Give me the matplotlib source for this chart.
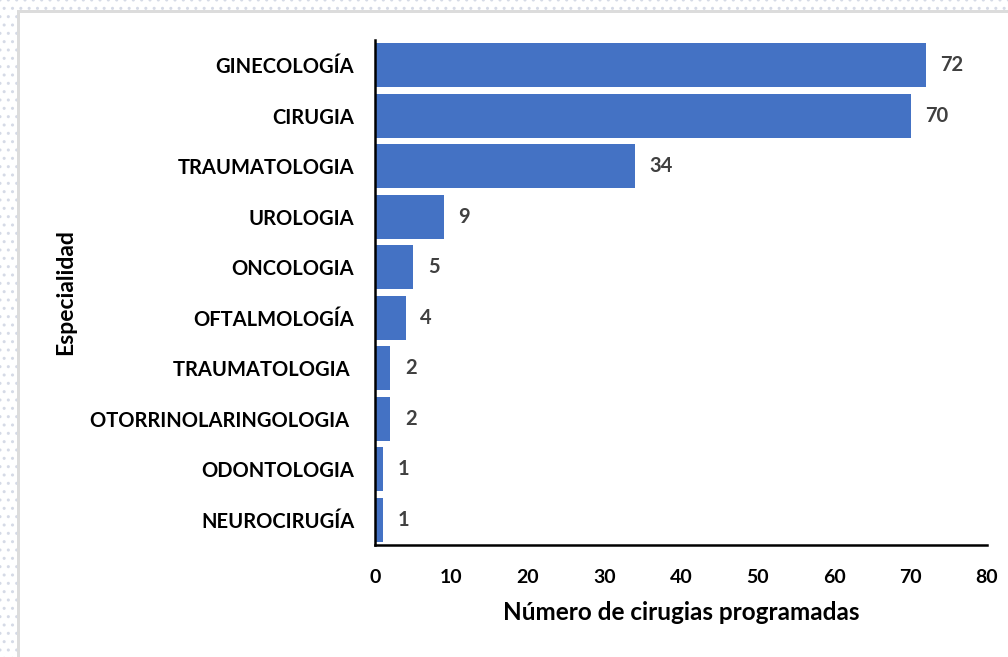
import matplotlib.pyplot as plt
from matplotlib.patches import Rectangle

especialidades = [
    "GINECOLOGÍA",
    "CIRUGIA",
    "TRAUMATOLOGIA",
    "UROLOGIA",
    "ONCOLOGIA",
    "OFTALMOLOGÍA",
    "TRAUMATOLOGIA ",
    "OTORRINOLARINGOLOGIA ",
    "ODONTOLOGIA",
    "NEUROCIRUGÍA",
]
cirugias = [72, 70, 34, 9, 5, 4, 2, 2, 1, 1]
x_ticks = [0, 10, 20, 30, 40, 50, 60, 70, 80]


def main():
    plt.rcParams["font.family"] = ["Lato", "DejaVu Sans"]
    fig = plt.figure(figsize=(10.08, 6.57), dpi=100)
    W, H = 1008, 657

    # dotted border of the screenshot (left and top strips)
    for (x0, y0, w, h) in [(0, 0, 17, H), (0, H - 10, W, 10)]:
        fig.patches.append(Rectangle((x0 / W, y0 / H), w / W, h / H,
                                     transform=fig.transFigure, facecolor="white",
                                     edgecolor="#d5dae6", hatch="..", linewidth=0,
                                     zorder=0))
    fig.patches.append(Rectangle((17 / W, -0.01), 2.5 / W, (H - 10) / H + 0.01,
                                 transform=fig.transFigure, color="#dcdcdc",
                                 linewidth=0, zorder=1))
    fig.patches.append(Rectangle((17 / W, (H - 12.5) / H), 1.0, 2.5 / H,
                                 transform=fig.transFigure, color="#dcdcdc",
                                 linewidth=0, zorder=1))

    ax = fig.add_axes([375 / W, (H - 545) / H, 612 / W, 505 / H])
    y = list(range(len(especialidades)))
    ax.barh(y, cirugias, height=0.88, color="#4472C4")
    ax.set_ylim(len(especialidades) - 0.5, -0.5)
    ax.set_xlim(0, 80)
    ax.set_xticks(x_ticks)
    ax.set_xticklabels([str(t) for t in x_ticks], fontsize=14, fontweight="bold")
    ax.set_yticks(y)
    ax.set_yticklabels(especialidades, fontsize=14.5, fontweight="bold")
    ax.tick_params(axis="both", length=0, colors="black")
    ax.tick_params(axis="x", pad=17)
    ax.tick_params(axis="y", pad=15)

    for yi, v in zip(y, cirugias):
        ax.text(v + 1.9, yi, str(v), va="center", ha="left", fontsize=14.5,
                fontweight="bold", color="#404040")

    for side in ["top", "right"]:
        ax.spines[side].set_visible(False)
    for side in ["left", "bottom"]:
        ax.spines[side].set_linewidth(1.8)
        ax.spines[side].set_color("black")

    ax.set_xlabel("Número de cirugias programadas", fontsize=17.5, fontweight="bold",
                  labelpad=11)
    ax.set_ylabel("Especialidad", fontsize=16.5, fontweight="bold", labelpad=10)

    fig.savefig("out.png", dpi=100)


if __name__ == "__main__":
    main()
